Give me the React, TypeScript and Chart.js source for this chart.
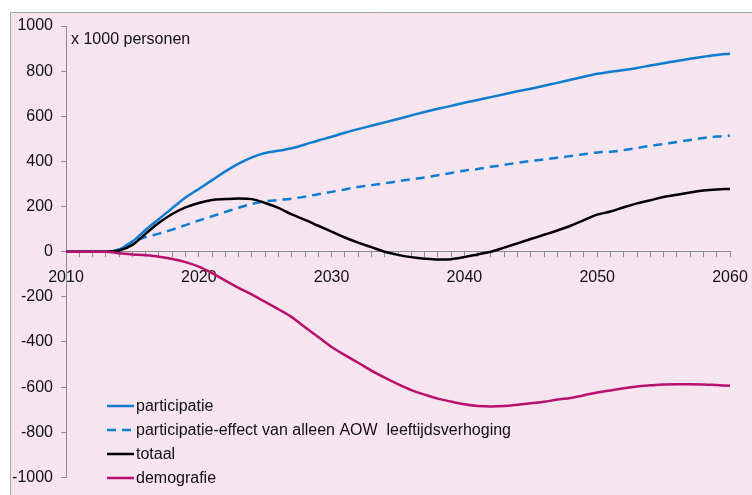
import React, { useEffect, useRef } from "react";
import { Chart, registerables } from "chart.js";

Chart.register(...registerables);

const years: string[] = [];
for (let y = 2010; y <= 2060; y++) years.push(String(y));

const participatie = [
  0, 0, 0, 0, 10, 45, 97, 145, 193, 240,
  278, 317, 356, 390, 418, 437, 447, 458, 475, 493,
  509, 527, 543, 558, 573, 588, 604, 619, 633, 646,
  660, 672, 685, 698, 711, 722, 735, 748, 762, 775,
  788, 797, 805, 814, 825, 835, 845, 855, 864, 872,
  877,
];

const aowEffect = [
  0, 0, 0, 0, 10, 45, 65, 80, 98, 118,
  138, 157, 176, 195, 212, 223, 229, 235, 244, 255,
  265, 276, 287, 295, 303, 312, 321, 329, 339, 349,
  359, 366, 376, 385, 394, 402, 409, 416, 424, 432,
  440, 443, 450, 459, 469, 477, 486, 495, 504, 510,
  514,
];

const totaal = [
  0, 0, 0, 0, 5, 30, 80, 128, 167, 196,
  216, 229, 233, 236, 233, 216, 194, 165, 141, 115,
  89, 63, 40, 20, 0, -14, -24, -31, -35, -33,
  -24, -12, 0, 18, 37, 56, 75, 94, 115, 140,
  164, 178, 197, 214, 228, 242, 252, 262, 271, 276,
  278,
];

const demografie = [
  0, 0, 0, 0, -7, -12, -16, -22, -32, -46,
  -66, -95, -128, -160, -190, -222, -255, -290, -335, -378,
  -422, -458, -492, -527, -558, -587, -613, -633, -651, -664,
  -676, -684, -686, -684, -678, -671, -665, -655, -648, -636,
  -624, -615, -605, -597, -592, -588, -587, -587, -588, -591,
  -594,
];

const seriesLabels = [
  "participatie",
  "participatie-effect van alleen AOW  leeftijdsverhoging",
  "totaal",
  "demografie",
];

const unitLabel = "x 1000 personen";

const FONT = "'Liberation Sans', Arial, sans-serif";
const BLUE = "#0E7CCF";
const MAGENTA = "#B8106E";
const AXIS = "#8C8C8C";

const bgPlugin = {
  id: "bgPlugin",
  beforeDraw(chart: any) {
    const ctx = chart.ctx;
    ctx.save();
    ctx.fillStyle = "#ffffff";
    ctx.fillRect(0, 0, chart.width, chart.height);
    ctx.fillStyle = "#F6E4EF";
    ctx.fillRect(10, 12, chart.width - 10, chart.height - 12);
    ctx.strokeStyle = "#A6A6A6";
    ctx.lineWidth = 1;
    ctx.beginPath();
    ctx.moveTo(10.5, chart.height);
    ctx.lineTo(10.5, 12.5);
    ctx.lineTo(chart.width, 12.5);
    ctx.stroke();
    ctx.restore();
  },
};

const legendPlugin = {
  id: "customLegend",
  afterDraw(chart: any) {
    const ctx = chart.ctx;
    ctx.save();
    ctx.font = `16px ${FONT}`;
    ctx.textBaseline = "middle";
    ctx.textAlign = "left";
    ctx.fillStyle = "#111111";
    ctx.fillText(unitLabel, chart.chartArea.left + 5, 40);
    chart.data.datasets.forEach((ds: any, i: number) => {
      const y = 406 + i * 24;
      ctx.strokeStyle = ds.borderColor;
      ctx.lineWidth = 2.5;
      ctx.setLineDash(ds.borderDash || []);
      ctx.beginPath();
      ctx.moveTo(107, y);
      ctx.lineTo(134, y);
      ctx.stroke();
      ctx.setLineDash([]);
      ctx.fillStyle = "#111111";
      ctx.fillText(ds.label, 136, y + 1);
    });
    ctx.restore();
  },
};

export default function App() {
  const ref = useRef<HTMLCanvasElement | null>(null);
  useEffect(() => {
    if (!ref.current) return;
    const common = {
      pointRadius: 0,
      borderWidth: 2.5,
      fill: false,
      cubicInterpolationMode: "monotone" as const,
    };
    const chart = new Chart(ref.current, {
      type: "line",
      data: {
        labels: years,
        datasets: [
          { ...common, label: seriesLabels[0], data: participatie, borderColor: BLUE, order: 2 },
          { ...common, label: seriesLabels[1], data: aowEffect, borderColor: BLUE, borderDash: [9, 6], order: 3 },
          { ...common, label: seriesLabels[2], data: totaal, borderColor: "#000000", order: 1 },
          { ...common, label: seriesLabels[3], data: demografie, borderColor: MAGENTA, order: 0 },
        ],
      },
      options: {
        responsive: false,
        animation: false,
        layout: { padding: { left: 0, top: 26, right: 22, bottom: 9 } },
        plugins: { legend: { display: false }, tooltip: { enabled: false } },
        scales: {
          x: {
            type: "category",
            position: { y: 0 } as any,
            offset: false,
            afterFit: (s: any) => {
              s.paddingLeft = 0;
              s.paddingRight = 0;
            },
            grid: {
              display: true,
              drawOnChartArea: false,
              drawTicks: true,
              tickLength: 5,
              color: AXIS,
            },
            border: { display: true, color: AXIS, width: 1 },
            ticks: {
              autoSkip: false,
              maxRotation: 0,
              minRotation: 0,
              padding: 11,
              color: "#111111",
              font: { family: FONT, size: 16 },
              callback: function (this: any, v: any) {
                const lab = this.getLabelForValue(v);
                return Number(lab) % 10 === 0 ? lab : "";
              },
            },
          },
          y: {
            min: -1000,
            max: 1000,
            afterFit: (s: any) => {
              s.width = 66;
            },
            grid: {
              display: true,
              drawOnChartArea: false,
              drawTicks: true,
              tickLength: 5,
              color: AXIS,
            },
            border: { display: true, color: AXIS, width: 1 },
            ticks: {
              stepSize: 200,
              padding: 8,
              color: "#111111",
              font: { family: FONT, size: 16 },
              callback: (v: any) => String(v),
            },
          },
        },
      },
      plugins: [bgPlugin, legendPlugin],
    });
    return () => chart.destroy();
  }, []);
  return (
    <div style={{ position: "absolute", left: 0, top: 0, width: 752, height: 495 }}>
      <canvas ref={ref} width={752} height={495} style={{ display: "block" }} />
    </div>
  );
}
